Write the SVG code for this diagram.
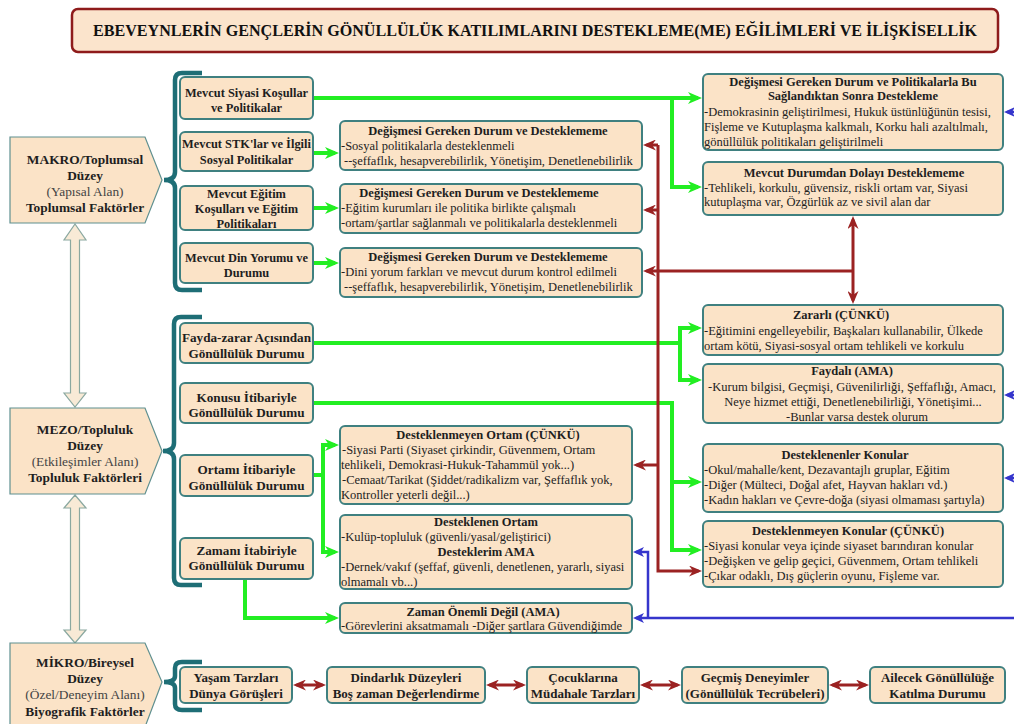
<svg xmlns="http://www.w3.org/2000/svg" width="1014" height="724" viewBox="0 0 1014 724">
<style>
.box{fill:#fbe3c7;stroke:#3f8080;stroke-width:2}
.lvl{fill:#fbe3c7;stroke:#5f9090;stroke-width:1.2}
.harr{fill:#f8ead6;stroke:#8aa8a0;stroke-width:1.2}
.brace{stroke:#1e6e76;stroke-width:4.5;fill:none}
.b{font-family:"Liberation Serif","Times New Roman",serif;font-weight:bold;font-size:13px;fill:#1e1e1e;text-anchor:middle}
.bm{font-family:"Liberation Serif","Times New Roman",serif;font-weight:bold;font-size:12.4px;fill:#1e1e1e;text-anchor:middle}
.bz{font-family:"Liberation Serif","Times New Roman",serif;font-weight:bold;font-size:13.2px;fill:#1e1e1e;text-anchor:middle}
.lb{font-family:"Liberation Serif","Times New Roman",serif;font-weight:bold;font-size:13.4px;fill:#1e1e1e;text-anchor:middle}
.ln{font-family:"Liberation Serif","Times New Roman",serif;font-size:13.4px;fill:#444;text-anchor:middle}
.h{font-family:"Liberation Serif","Times New Roman",serif;font-weight:bold;font-size:12.5px;fill:#1e1e1e;text-anchor:middle}
.t{font-family:"Liberation Serif","Times New Roman",serif;font-size:12.5px;fill:#222}
.tc{font-family:"Liberation Serif","Times New Roman",serif;font-size:12.5px;fill:#222;text-anchor:middle}
.g{stroke:#22ee22;stroke-width:4;fill:none;marker-end:url(#ag)}
.r{stroke:#9b2222;stroke-width:3;fill:none;marker-end:url(#ar)}
.rd{stroke:#9b2222;stroke-width:3;fill:none;marker-start:url(#ar);marker-end:url(#ar)}
.bl{stroke:#3535cc;stroke-width:2.5;fill:none;marker-end:url(#ab)}
</style>
<defs>
<marker id="ag" viewBox="0 0 14 12" refX="10" refY="6" markerWidth="14" markerHeight="12" markerUnits="userSpaceOnUse" orient="auto"><path d="M0,0 L14,6 L0,12 L4,6 Z" fill="#22ee22"/></marker>
<marker id="ar" viewBox="0 0 13 11" refX="9.5" refY="5.5" markerWidth="13" markerHeight="11" markerUnits="userSpaceOnUse" orient="auto-start-reverse"><path d="M0,0 L13,5.5 L0,11 L4,5.5 Z" fill="#9b2222"/></marker>
<marker id="ab" viewBox="0 0 11 10" refX="8" refY="5" markerWidth="11" markerHeight="10" markerUnits="userSpaceOnUse" orient="auto"><path d="M0,0 L11,5 L0,10 L3,5 Z" fill="#3535cc"/></marker>
</defs>
<rect width="1014" height="724" fill="#ffffff"/>

<g id="title">
<rect x="72" y="9" width="926" height="43" rx="6" fill="#fbe4cc" stroke="#8e1b1b" stroke-width="2.5"/>
<text x="535" y="36" font-family="Liberation Serif, Times New Roman, serif" font-weight="bold" font-size="16" fill="#111" text-anchor="middle" textLength="884" lengthAdjust="spacingAndGlyphs">EBEVEYNLERİN GENÇLERİN GÖNÜLLÜLÜK KATILIMLARINI DESTEKLEME(ME) EĞİLİMLERİ VE İLİŞKİSELLİK</text>
</g>

<g id="level-arrows">
<polygon class="harr" points="75,224 86,240 79.5,240 79.5,393 86,393 75,407 64,393 70.5,393 70.5,240 64,240"/>
<polygon class="harr" points="75,495 86,508 79.5,508 79.5,630 86,630 75,643 64,630 70.5,630 70.5,508 64,508"/>
</g>

<g id="makro">
<path class="lvl" d="M10,137 H145 L162,180 L145,223 H10 Z"/>
<text class="lb" x="85" y="164">MAKRO/Toplumsal</text>
<text class="lb" x="85" y="180">Düzey</text>
<text class="ln" x="85" y="196">(Yapısal Alan)</text>
<text class="lb" x="85" y="212">Toplumsal Faktörler</text>
</g>
<g id="mezo">
<path class="lvl" d="M10,408 H145 L162,451 L145,494 H10 Z"/>
<text class="lb" x="85" y="434">MEZO/Topluluk</text>
<text class="lb" x="85" y="450">Düzey</text>
<text class="ln" x="85" y="466">(Etkileşimler Alanı)</text>
<text class="lb" x="85" y="482">Topluluk Faktörleri</text>
</g>
<g id="mikro">
<path class="lvl" d="M10,643 H145 L162,682 L145,727 H10 Z"/>
<text class="lb" x="85" y="667">MİKRO/Bireysel</text>
<text class="lb" x="85" y="683">Düzey</text>
<text class="ln" x="85" y="699">(Özel/Deneyim Alanı)</text>
<text class="lb" x="85" y="716">Biyografik Faktörler</text>
</g>

<g id="braces">
<path class="brace" d="M202,73 H182 Q175,73 175,80 V172 Q175,180 164,180 Q175,180 175,188 V283 Q175,290 182,290 H202"/>
<path class="brace" d="M202,317 H181 Q174,317 174,324 V443 Q174,451 163,451 Q174,451 174,459 V578 Q174,585 181,585 H202"/>
<path class="brace" d="M202,662 H182 Q175,662 175,668 V676 Q175,682 164,682 Q175,682 175,688 V704 Q175,710 182,710 H202"/>
</g>

<g id="connectors">
<path class="g" d="M313,98 H698"/>
<path class="g" d="M672,98 V187 H698"/>
<path class="g" d="M313,153 H335"/>
<path class="g" d="M313,208 H335"/>
<path class="g" d="M313,263 H335"/>
<path class="g" d="M313,343 H680 V328 H698"/>
<path class="g" d="M680,343 V380 H698"/>
<path class="g" d="M313,403 H672 V482 H698"/>
<path class="g" d="M672,482 V550 H698"/>
<path class="g" d="M313,475 H323 V445 H335"/>
<path class="g" d="M323,475 V552 H335"/>
<path class="g" d="M245,579 V618 H335"/>
<path class="r" d="M658,145 V571 H698.5"/>
<path class="r" d="M658,145 H646.5"/>
<path class="r" d="M658,210 H646.5"/>
<path class="r" d="M853,271 H646.5"/>
<path class="r" d="M658,465 H636.5"/>
<path class="rd" d="M853,219.5 V300.5"/>
<path class="rd" d="M296.5,685 H322.5"/>
<path class="rd" d="M489.5,685 H522.5"/>
<path class="rd" d="M643.5,685 H677.5"/>
<path class="rd" d="M832.5,685 H865.5"/>
<path class="bl" d="M1014,618 H636"/>
<path class="bl" d="M648,618 V552 H636"/>
<path class="bl" d="M1016,112 H1007"/>
<path class="bl" d="M1016,395 H1007"/>
<path class="bl" d="M1016,478 H1007"/>
</g>

<g id="n-siyasi"><rect class="box" x="180" y="77" width="133" height="42" rx="5"/>
<text class="bm" x="246.5" y="97">Mevcut Siyasi Koşullar</text><text class="bm" x="246.5" y="112">ve Politikalar</text></g>
<g id="n-stk"><rect class="box" x="180" y="132" width="133" height="39" rx="5"/>
<text class="bm" x="246.5" y="148">Mevcut STK'lar ve İlgili</text><text class="bm" x="246.5" y="164">Sosyal Politikalar</text></g>
<g id="n-egitim"><rect class="box" x="180" y="186" width="133" height="44" rx="5"/>
<text class="bm" x="246.5" y="198">Mevcut Eğitim</text><text class="bm" x="246.5" y="213">Koşulları ve Eğitim</text><text class="bm" x="246.5" y="228">Politikaları</text></g>
<g id="n-din"><rect class="box" x="180" y="243" width="133" height="40" rx="5"/>
<text class="bm" x="246.5" y="262">Mevcut Din Yorumu ve</text><text class="bm" x="246.5" y="277">Durumu</text></g>

<g id="n-a"><rect class="box" x="340" y="121" width="302" height="49" rx="5"/>
<text class="h" x="488" y="135">Değişmesi Gereken Durum ve Desteklememe</text>
<text class="t" x="341" y="150">-Sosyal politikalarla desteklenmeli</text>
<text class="t" x="344" y="165">--şeffaflık, hesapverebilirlik, Yönetişim, Denetlenebilirlik</text></g>
<g id="n-b"><rect class="box" x="340" y="184" width="302" height="49" rx="5"/>
<text class="h" x="479" y="197">Değişmesi Gereken Durum ve Desteklememe</text>
<text class="t" x="341" y="212">-Eğitim kurumları ile politika birlikte çalışmalı</text>
<text class="t" x="341" y="227">-ortam/şartlar sağlanmalı ve politikalarla desteklenmeli</text></g>
<g id="n-c"><rect class="box" x="340" y="248" width="302" height="49" rx="5"/>
<text class="h" x="488" y="261">Değişmesi Gereken Durum ve Desteklememe</text>
<text class="t" x="341" y="276">-Dini yorum farkları ve mevcut durum kontrol edilmeli</text>
<text class="t" x="344" y="291">--şeffaflık, hesapverebilirlik, Yönetişim, Denetlenebilirlik</text></g>

<g id="n-d"><rect class="box" x="703" y="74" width="300" height="76" rx="5"/>
<text class="h" x="853" y="86">Değişmesi Gereken Durum ve Politikalarla Bu</text>
<text class="h" x="853" y="100">Sağlandıktan Sonra Destekleme</text>
<text class="t" x="704" y="116">-Demokrasinin geliştirilmesi, Hukuk üstünlüğünün tesisi,</text>
<text class="t" x="704" y="131">Fişleme ve Kutuplaşma kalkmalı, Korku hali azaltılmalı,</text>
<text class="t" x="704" y="146">gönüllülük politikaları geliştirilmeli</text></g>
<g id="n-e"><rect class="box" x="703" y="162" width="300" height="53" rx="5"/>
<text class="h" x="854" y="177">Mevcut Durumdan Dolayı Desteklememe</text>
<text class="t" x="704" y="192">-Tehlikeli, korkulu, güvensiz, riskli ortam var, Siyasi</text>
<text class="t" x="704" y="206">kutuplaşma var, Özgürlük az ve sivil alan dar</text></g>

<g id="n-fayda"><rect class="box" x="180" y="323" width="133" height="40" rx="5"/>
<text class="bz" x="246.5" y="342">Fayda-zarar Açısından</text><text class="bz" x="246.5" y="358">Gönüllülük Durumu</text></g>
<g id="n-konusu"><rect class="box" x="180" y="383" width="133" height="40" rx="5"/>
<text class="bz" x="246.5" y="402">Konusu İtibariyle</text><text class="bz" x="246.5" y="417">Gönüllülük Durumu</text></g>
<g id="n-ortami"><rect class="box" x="180" y="455" width="133" height="41" rx="5"/>
<text class="bz" x="246.5" y="474">Ortamı İtibariyle</text><text class="bz" x="246.5" y="490">Gönüllülük Durumu</text></g>
<g id="n-zamani"><rect class="box" x="180" y="538" width="133" height="41" rx="5"/>
<text class="bz" x="246.5" y="555">Zamanı İtabiriyle</text><text class="bz" x="246.5" y="570">Gönüllülük Durumu</text></g>

<g id="n-dort"><rect class="box" x="340" y="426" width="292" height="78" rx="5"/>
<text class="h" x="488" y="439">Desteklenmeyen Ortam (ÇÜNKÜ)</text>
<text class="t" x="342" y="454">-Siyasi Parti (Siyaset çirkindir, Güvenmem, Ortam</text>
<text class="t" x="341" y="469">tehlikeli, Demokrasi-Hukuk-Tahammül yok...)</text>
<text class="t" x="342" y="484">-Cemaat/Tarikat (Şiddet/radikalizm var, Şeffaflık yok,</text>
<text class="t" x="341" y="499">Kontroller yeterli değil...)</text></g>
<g id="n-dso"><rect class="box" x="340" y="515" width="292" height="74" rx="5"/>
<text class="h" x="486" y="526">Desteklenen Ortam</text>
<text class="t" x="341" y="541">-Kulüp-topluluk (güvenli/yasal/geliştirici)</text>
<text class="h" x="486" y="556">Desteklerim AMA</text>
<text class="t" x="341" y="571">-Dernek/vakıf (şeffaf, güvenli, denetlenen, yararlı, siyasi</text>
<text class="t" x="341" y="586">olmamalı vb...)</text></g>
<g id="n-zaman"><rect class="box" x="340" y="603" width="292" height="30" rx="5"/>
<text class="h" x="483" y="616">Zaman Önemli Değil (AMA)</text>
<text class="t" x="341" y="630">-Görevlerini aksatmamalı -Diğer şartlara Güvendiğimde</text></g>

<g id="n-zararli"><rect class="box" x="703" y="305" width="300" height="50" rx="5"/>
<text class="h" x="841" y="319">Zararlı (ÇÜNKÜ)</text>
<text class="t" x="704" y="335">-Eğitimini engelleyebilir, Başkaları kullanabilir, Ülkede</text>
<text class="t" x="704" y="350">ortam kötü, Siyasi-sosyal ortam tehlikeli ve korkulu</text></g>
<g id="n-faydali"><rect class="box" x="703" y="364" width="300" height="59" rx="5"/>
<text class="h" x="852" y="375">Faydalı (AMA)</text>
<text class="tc" x="852" y="391">-Kurum bilgisi, Geçmişi, Güvenilirliği, Şeffaflığı, Amacı,</text>
<text class="tc" x="853" y="406">Neye hizmet ettiği, Denetlenebilirliği, Yönetişimi...</text>
<text class="tc" x="857" y="421">-Bunlar varsa destek olurum</text></g>
<g id="n-dk"><rect class="box" x="703" y="444" width="300" height="68" rx="5"/>
<text class="h" x="845" y="459">Desteklenenler Konular</text>
<text class="t" x="704" y="474">-Okul/mahalle/kent, Dezavantajlı gruplar, Eğitim</text>
<text class="t" x="704" y="489">-Diğer (Mülteci, Doğal afet, Hayvan hakları vd.)</text>
<text class="t" x="704" y="504">-Kadın hakları ve Çevre-doğa (siyasi olmaması şartıyla)</text></g>
<g id="n-dmk"><rect class="box" x="703" y="521" width="300" height="66" rx="5"/>
<text class="h" x="848" y="535">Desteklenmeyen Konular (ÇÜNKÜ)</text>
<text class="t" x="704" y="550">-Siyasi konular veya içinde siyaset barındıran konular</text>
<text class="t" x="704" y="565">-Değişken ve gelip geçici, Güvenmem, Ortam tehlikeli</text>
<text class="t" x="704" y="580">-Çıkar odaklı, Dış güçlerin oyunu, Fişleme var.</text></g>

<g id="n-yasam"><rect class="box" x="180" y="667" width="112" height="36" rx="5"/>
<text class="b" x="236" y="682">Yaşam Tarzları</text><text class="b" x="236" y="698">Dünya Görüşleri</text></g>
<g id="n-dindarlik"><rect class="box" x="327" y="667" width="158" height="36" rx="5"/>
<text class="b" x="406" y="682">Dindarlık Düzeyleri</text><text class="b" x="406" y="698">Boş zaman Değerlendirme</text></g>
<g id="n-cocuk"><rect class="box" x="527" y="667" width="112" height="36" rx="5"/>
<text class="b" x="583" y="682">Çocuklarına</text><text class="b" x="583" y="698">Müdahale Tarzları</text></g>
<g id="n-gecmis"><rect class="box" x="682" y="667" width="146" height="36" rx="5"/>
<text class="b" x="755" y="682">Geçmiş Deneyimler</text><text class="b" x="755" y="698">(Gönüllülük Tecrübeleri)</text></g>
<g id="n-ailecek"><rect class="box" x="870" y="667" width="135" height="36" rx="5"/>
<text class="b" x="937.5" y="682">Ailecek Gönüllülüğe</text><text class="b" x="937.5" y="698">Katılma Durumu</text></g>
</svg>
